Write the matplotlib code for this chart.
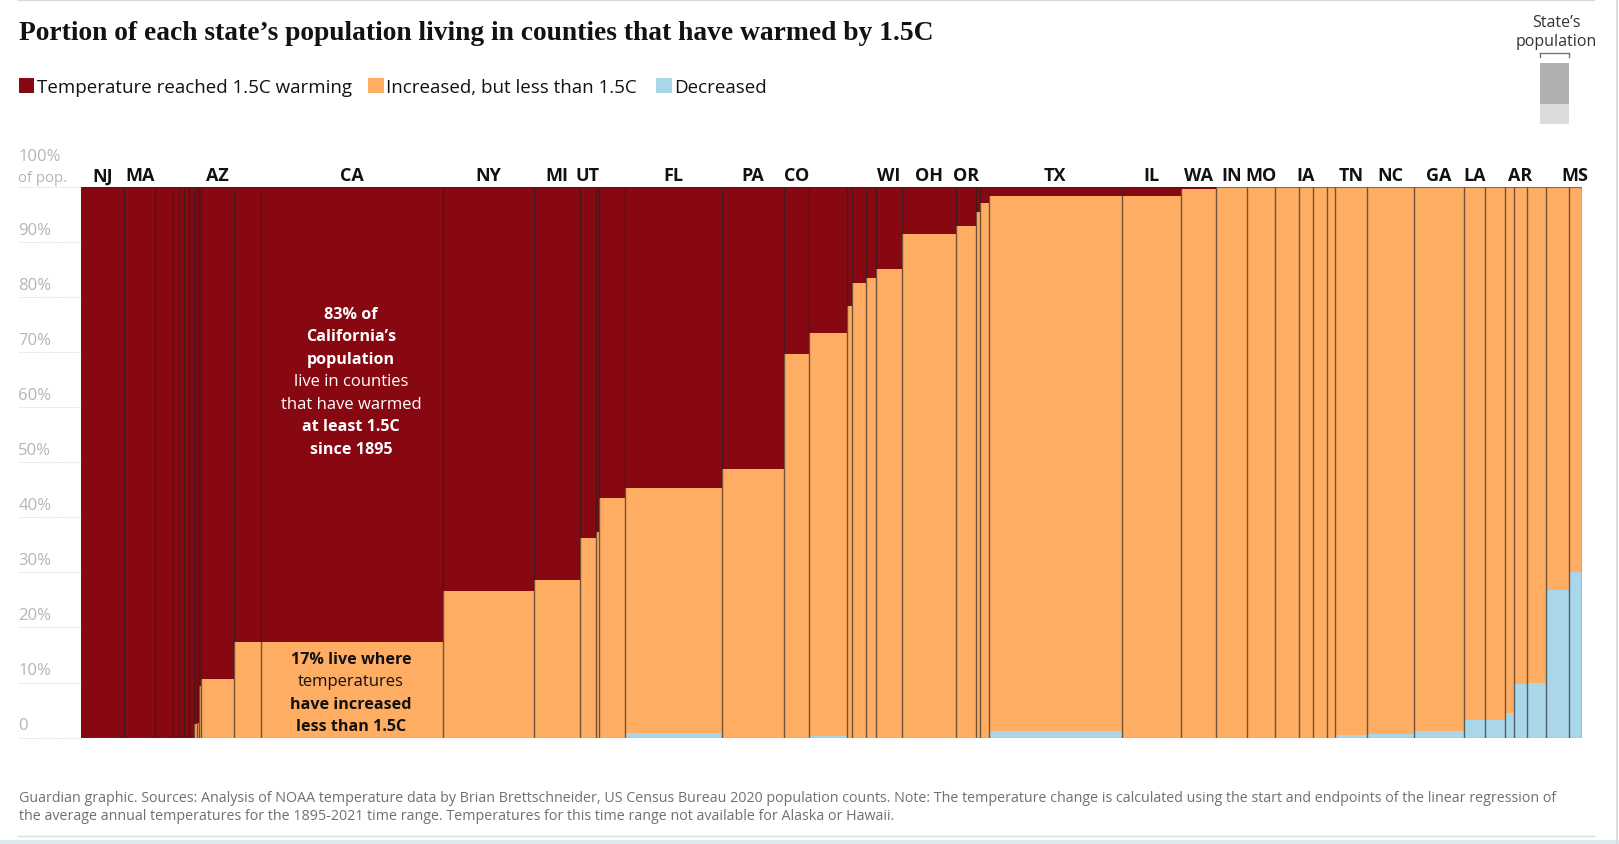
import matplotlib
matplotlib.use("Agg")
import matplotlib.pyplot as plt
from matplotlib.patches import Rectangle
import numpy as np

W, H = 1619, 845

# state population in millions
pop = [9.54, 6.81, 3.87, 1.34, 1.14, 1.14, 1.14, 0.59, 0.33, 0.48, 7.30, 5.98, 39.96, 20.04, 10.15, 3.34, 0.68,
       5.82, 21.34, 13.47, 5.60, 8.33, 1.05, 3.08, 2.13, 5.91, 11.80, 4.33, 0.88, 1.98, 29.23, 12.95, 7.71,
       6.81, 6.13, 5.23, 3.25, 2.95, 1.82, 6.95, 10.46, 10.90, 4.62, 4.46, 1.89, 2.95, 4.09, 4.99, 2.95]
labels = ["NJ", "MA", "", "", "", "", "", "", "", "", "AZ", "", "CA", "NY", "MI", "UT", "",
          "", "FL", "PA", "CO", "", "", "", "", "WI", "OH", "OR", "", "", "TX", "IL", "WA",
          "IN", "MO", "", "IA", "", "", "TN", "NC", "GA", "LA", "", "", "AR", "", "", "MS"]
# top of the blue part and top of the orange part, percent of population
blue = [0, 0, 0, 0, 0, 0, 0, 0, 0, 0, 0, 0, 0, 0, 0, 0, 0,
        0, 0.9, 0, 0, 0.2, 0, 0, 0, 0, 0, 0, 0, 0, 1.2, 0, 0,
        0, 0, 0, 0, 0, 0, 0.4, 0.6, 1.2, 3.2, 3.2, 4.5, 9.8, 9.9, 26.8, 30]
orange = [0, 0, 0, 0, 0, 0, 0, 2.4, 2.6, 9.4, 10.7, 17.3, 17.4, 26.6, 28.7, 36.2, 37.3,
          43.5, 45.4, 48.8, 69.6, 73.4, 78.3, 82.6, 83.5, 85.1, 91.5, 92.8, 95.5, 97.1, 98.3, 98.4, 99.6,
          100, 100, 100, 100, 100, 100, 100, 100, 100, 100, 100, 100, 100, 100, 100, 100]
yticks = [90, 80, 70, 60, 50, 40, 30, 20, 10, 0]

RED = "#880812"
ORANGE = "#FFAD62"
BLUE = "#A9D6E8"
BODY = "Open Sans"


def ftext(x, y, s, **kw):
    # text placed in pixels of the reference
    kw.setdefault("family", BODY)
    kw.setdefault("va", "center")
    return fig.text(x / W, 1 - y / H, s, **kw)


def frect(x0, y0, x1, y1, color):
    fig.add_artist(Rectangle((x0 / W, 1 - y1 / H), (x1 - x0) / W, (y1 - y0) / H, color=color, lw=0,
                             transform=fig.transFigure))


def fline(x0, y0, x1, y1, color, lw=1):
    fig.add_artist(plt.Line2D([x0 / W, x1 / W], [1 - y0 / H, 1 - y1 / H], color=color, lw=lw,
                              transform=fig.transFigure))


fig = plt.figure(figsize=(W / 100, H / 100), dpi=100, facecolor="white")
ax = fig.add_axes([80.7 / W, 1 - 738.6 / H, (1582 - 80.7) / W, (738.6 - 187.8) / H])

pop = np.array(pop)
left = np.concatenate([[0], np.cumsum(pop)[:-1]])
blue = np.array(blue)
orange = np.array(orange)

ax.bar(left, blue, pop, align="edge", color=BLUE, lw=0)
ax.bar(left, orange - blue, pop, bottom=blue, align="edge", color=ORANGE, lw=0)
ax.bar(left, 100 - orange, pop, bottom=orange, align="edge", color=RED, lw=0)
ax.vlines(np.append(left[1:], pop.sum()), 0, 100, color="#222222", alpha=0.65, lw=1.0)
ax.hlines([0, 100], 0, pop.sum(), color="#222222", alpha=0.5, lw=0.8)
ax.set_xlim(0, pop.sum())
ax.set_ylim(0, 100)
ax.axis("off")

for x, w, s in zip(left, pop, labels):
    if s:
        ax.text(x + w / 2, 102.1, s, ha="center", va="center", fontsize=13, fontweight="bold",
                family=BODY, color="#121212")

# y axis is drawn by hand, labels sit above their dotted lines on the left
tr = ax.get_yaxis_transform()
for v in [100] + yticks:
    ax.plot([-0.041, 0], [v, v], transform=tr, clip_on=False, color="#cfcfcf", lw=0.7, ls=(0, (1, 1.5)))
for v in yticks:
    ax.text(-0.0416, v + 2.2, f"{v}%" if v else "0", transform=tr, ha="left", va="center",
            fontsize=12, family=BODY, color="#b5b5b5")
ax.text(-0.0416, 105.6, "100%", transform=tr, ha="left", va="center", fontsize=12, family=BODY, color="#b5b5b5")
ax.text(-0.0416, 101.6, "of pop.", transform=tr, ha="left", va="center", fontsize=10.7, family=BODY, color="#b5b5b5")

# title and legend
ftext(18.6, 33, "Portion of each state\u2019s population living in counties that have warmed by 1.5C",
      family="Liberation Serif", fontweight="bold", fontsize=19.8, color="#121212")
for x0, tx, s, c in [(18.6, 37, "Temperature reached 1.5C warming", RED),
                     (368, 385.5, "Increased, but less than 1.5C", ORANGE),
                     (656, 674.6, "Decreased", BLUE)]:
    frect(x0, 78.5, x0 + 15.5, 93.5, c)
    ftext(tx, 88, s, fontsize=13.5, color="#121212")

# annotations inside California
cx = 351
white_lines = [("83% of", "bold"), ("California\u2019s", "bold"), ("population", "bold"), ("live in counties", "normal"),
               ("that have warmed", "normal"), ("at least 1.5C", "bold"), ("since 1895", "bold")]
for i, (s, wt) in enumerate(white_lines):
    ftext(cx, 315 + i * 22.5, s, ha="center", fontsize=11.6 if wt == "bold" else 12, fontweight=wt, color="white")
dark_lines = [("17% live where", "bold"), ("temperatures", "normal"), ("have increased", "bold"), ("less than 1.5C", "bold")]
for i, (s, wt) in enumerate(dark_lines):
    ftext(cx, 660 + i * 22.4, s, ha="center", fontsize=11.6 if wt == "bold" else 12, fontweight=wt, color="#121212")

# population key
ftext(1556, 23, "State\u2019s", ha="center", fontsize=11.5, color="#333333")
ftext(1556, 42, "population", ha="center", fontsize=11.5, color="#333333")
fline(1540, 58, 1540, 53.5, "#777777")
fline(1540, 53.5, 1569, 53.5, "#777777")
fline(1569, 53.5, 1569, 58, "#777777")
frect(1540, 64, 1569, 105, "#b0b0b0")
frect(1540, 105, 1569, 125, "#dcdcdc")

# footer
ftext(18.6, 798.5, "Guardian graphic. Sources: Analysis of NOAA temperature data by Brian Brettschneider, US Census Bureau 2020 "
      "population counts. Note: The temperature change is calculated using the start and endpoints of the linear regression of",
      fontsize=10.3, color="#707070")
ftext(18.6, 817, "the average annual temperatures for the 1895-2021 time range. Temperatures for this time range not available "
      "for Alaska or Hawaii.", fontsize=10.3, color="#707070")

# page furniture around the graphic
fline(18, 0.8, 1594, 0.8, "#dcdcdc")
fline(18, 837, 1594, 837, "#dcdcdc")
frect(0, 841, W, 845, "#dbe8ee")
frect(1616, 0, 1618, 845, "#dcdcdc")

fig.savefig("out.png", dpi=100)
